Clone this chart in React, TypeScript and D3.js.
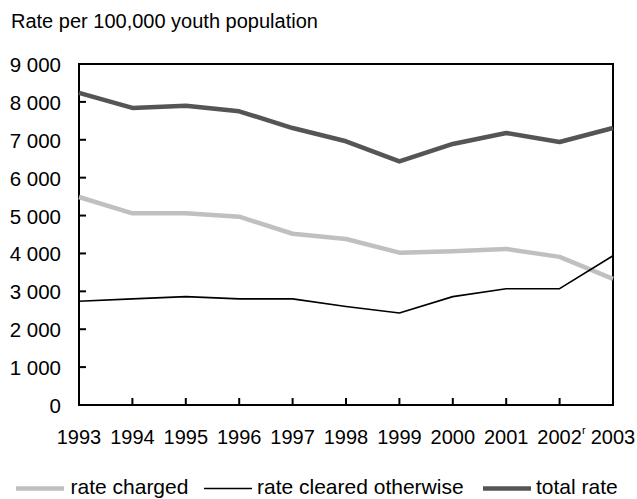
import React, {useEffect, useRef} from 'react';
import * as d3 from 'd3';

// years along the bottom
const years: number[] = [1993, 1994, 1995, 1996, 1997, 1998, 1999, 2000, 2001, 2002, 2003];
const yearLabels: string[] = ["1993", "1994", "1995", "1996", "1997", "1998", "1999", "2000", "2001", "2002", "2003"];

// series values, rate per 100,000 youth
const rateCharged: number[] = [5490, 5060, 5060, 4970, 4520, 4380, 4020, 4060, 4120, 3910, 3330];
const rateClearedOtherwise: number[] = [2740, 2800, 2860, 2800, 2800, 2600, 2430, 2860, 3070, 3070, 3940];
const totalRate: number[] = [8240, 7840, 7900, 7750, 7310, 6960, 6430, 6890, 7180, 6940, 7310];

const yTicks: number[] = [0, 1000, 2000, 3000, 4000, 5000, 6000, 7000, 8000, 9000];

const App = () => {
  const svgRef = useRef<SVGSVGElement | null>(null);

  useEffect(() => {
    drawChart();
    return () => {
      d3.select(svgRef.current).selectAll("*").remove();
    };
  }, []);

  const drawChart = () => {
    const width = 637;
    const height = 499;
    const margin = {top: 64, right: 24, bottom: 94, left: 79};
    const font = "'Liberation Sans', Arial, sans-serif";

    const svg = d3.select(svgRef.current)
      .attr("width", width)
      .attr("height", height);

    const x = d3.scaleLinear()
      .domain([years[0], years[years.length - 1]])
      .range([margin.left, width - margin.right]);

    const y = d3.scaleLinear()
      .domain([0, 9000])
      .range([height - margin.bottom, margin.top]);

    // title
    svg.append("text")
      .attr("x", 11)
      .attr("y", 27.5)
      .attr("font-family", font)
      .attr("font-size", "20px")
      .attr("fill", "#000")
      .text("Rate per 100,000 youth population");

    // y ticks, drawn inward
    svg.append("g")
      .selectAll("line")
      .data(yTicks)
      .enter().append("line")
      .attr("x1", margin.left)
      .attr("x2", margin.left + 7)
      .attr("y1", d => y(d))
      .attr("y2", d => y(d))
      .attr("stroke", "#000")
      .attr("stroke-width", 2);

    svg.append("g")
      .selectAll("text")
      .data(yTicks)
      .enter().append("text")
      .attr("x", 61)
      .attr("y", d => y(d) + 8)
      .attr("text-anchor", "end")
      .attr("font-family", font)
      .attr("font-size", "20.5px")
      .attr("fill", "#000")
      .text(d => d3.format(",")(d).replace(",", " "));

    // x ticks, drawn inward
    svg.append("g")
      .selectAll("line")
      .data(years)
      .enter().append("line")
      .attr("x1", d => x(d))
      .attr("x2", d => x(d))
      .attr("y1", y(0))
      .attr("y2", y(0) - 7)
      .attr("stroke", "#000")
      .attr("stroke-width", 2);

    svg.append("g")
      .selectAll("text")
      .data(years)
      .enter().append("text")
      .attr("x", d => x(d))
      .attr("y", 443.5)
      .attr("text-anchor", "middle")
      .attr("font-family", font)
      .attr("font-size", "20px")
      .attr("fill", "#000")
      .text((d, i) => yearLabels[i]);

    // revised marker on 2002
    svg.append("text")
      .attr("x", x(2002) + 22.5)
      .attr("y", 434)
      .attr("font-family", font)
      .attr("font-size", "11px")
      .attr("fill", "#000")
      .text("r");

    // frame
    svg.append("rect")
      .attr("x", margin.left)
      .attr("y", margin.top)
      .attr("width", width - margin.right - margin.left)
      .attr("height", height - margin.bottom - margin.top)
      .attr("fill", "none")
      .attr("stroke", "#000")
      .attr("stroke-width", 2);

    const series = [
      {name: "rate charged", values: rateCharged, color: "#c0c0c0", w: 4.5},
      {name: "rate cleared otherwise", values: rateClearedOtherwise, color: "#000000", w: 1.6},
      {name: "total rate", values: totalRate, color: "#555555", w: 4.5}
    ];

    const line = d3.line<number>()
      .x((d, i) => x(years[i]))
      .y(d => y(d));

    svg.append("g")
      .selectAll("path")
      .data(series)
      .enter().append("path")
      .attr("d", d => line(d.values))
      .attr("fill", "none")
      .attr("stroke", d => d.color)
      .attr("stroke-width", d => d.w)
      .attr("stroke-linejoin", "round");

    // legend
    const legendX = [16, 204, 483];
    const legend = svg.append("g")
      .selectAll("g")
      .data(series)
      .enter().append("g")
      .attr("transform", (d, i) => `translate(${legendX[i]},488.5)`);

    legend.append("line")
      .attr("x1", 0)
      .attr("x2", 48)
      .attr("y1", 0)
      .attr("y2", 0)
      .attr("stroke", d => d.color)
      .attr("stroke-width", d => d.w);

    legend.append("text")
      .attr("x", d => d.name === "rate charged" ? 54.5 : 53)
      .attr("y", 5.5)
      .attr("font-family", font)
      .attr("font-size", "21px")
      .attr("fill", "#000")
      .text(d => d.name);
  };

  return (
    <svg ref={svgRef} style={{position: "absolute", left: 0, top: 0}}></svg>
  );
};

export default App;
